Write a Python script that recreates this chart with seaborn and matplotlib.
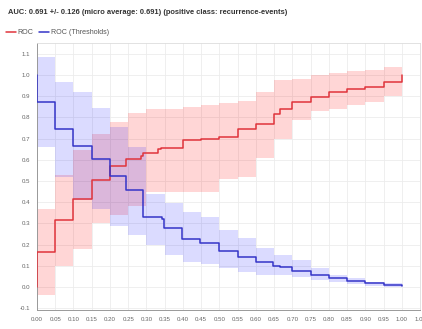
import numpy as np
import pandas as pd
import matplotlib
matplotlib.use("Agg")
import matplotlib.pyplot as plt
import seaborn as sns

# ROC curve (mean over folds), step points
roc_fpr = [0.0, 0.0, 0.05, 0.10, 0.15, 0.20, 0.245, 0.284, 0.291, 0.332, 0.34,
           0.40, 0.45, 0.50, 0.55, 0.60, 0.65, 0.665, 0.70, 0.75, 0.80, 0.85,
           0.90, 0.95, 1.00]
roc_tpr = [0.0, 0.166, 0.316, 0.414, 0.505, 0.571, 0.602, 0.618, 0.63, 0.651, 0.657,
           0.693, 0.70, 0.71, 0.744, 0.768, 0.815, 0.84, 0.875, 0.898, 0.918, 0.932,
           0.946, 0.968, 1.0]

# ROC (Thresholds) curve
thr_fpr = [0.0, 0.0, 0.05, 0.10, 0.15, 0.20, 0.245, 0.29, 0.342, 0.348, 0.398,
           0.448, 0.50, 0.55, 0.60, 0.647, 0.666, 0.70, 0.75, 0.80, 0.85, 0.90,
           0.95, 1.00]
thr_val = [1.0, 0.875, 0.744, 0.665, 0.605, 0.524, 0.457, 0.332, 0.319, 0.28, 0.226,
           0.206, 0.17, 0.14, 0.118, 0.099, 0.093, 0.077, 0.057, 0.041, 0.03, 0.017,
           0.011, 0.005]

# +/- std bands, one value per 0.05 column
band_fpr = [0.00, 0.05, 0.10, 0.15, 0.20, 0.25, 0.30, 0.35, 0.40, 0.45, 0.50,
            0.55, 0.60, 0.65, 0.70, 0.75, 0.80, 0.85, 0.90, 0.95, 1.00]
roc_low = [-0.04, 0.10, 0.18, 0.30, 0.34, 0.38, 0.45, 0.45, 0.45, 0.45, 0.51,
           0.52, 0.61, 0.70, 0.79, 0.83, 0.84, 0.86, 0.875, 0.90, 0.90]
roc_high = [0.37, 0.53, 0.645, 0.72, 0.78, 0.82, 0.84, 0.84, 0.85, 0.86, 0.87,
            0.88, 0.92, 0.975, 0.98, 1.0, 1.01, 1.02, 1.025, 1.04, 1.04]
thr_low = [0.66, 0.52, 0.41, 0.37, 0.29, 0.245, 0.198, 0.15, 0.12, 0.11, 0.09,
           0.072, 0.057, 0.057, 0.049, 0.033, 0.025, 0.014, 0.005, 0.0, 0.0]
thr_high = [1.086, 0.968, 0.921, 0.843, 0.756, 0.66, 0.44, 0.396, 0.355, 0.33, 0.27,
            0.23, 0.184, 0.15, 0.127, 0.088, 0.057, 0.041, 0.025, 0.02, 0.02]

x_ticks = [0.00, 0.05, 0.10, 0.15, 0.20, 0.25, 0.30, 0.35, 0.40, 0.45, 0.50,
           0.55, 0.60, 0.65, 0.70, 0.75, 0.80, 0.85, 0.90, 0.95, 1.00, 1.05]
y_ticks = [-0.1, 0.0, 0.1, 0.2, 0.3, 0.4, 0.5, 0.6, 0.7, 0.8, 0.9, 1.0, 1.1]

title = "AUC: 0.691 +/- 0.126 (micro average: 0.691) (positive class: recurrence-events)"

red = "#e0343c"
blue = "#3434c8"

sns.set_style("white")
plt.rcParams["font.family"] = ["Liberation Sans", "DejaVu Sans"]

fig = plt.figure(figsize=(4.22, 3.29), dpi=100)
ax = fig.add_axes([0.0877, 0.0568, 0.9076, 0.8116])

ax.fill_between(band_fpr, roc_low, roc_high, step="post", color="#ff0000",
                alpha=0.16, linewidth=0, zorder=1)
ax.fill_between(band_fpr, thr_low, thr_high, step="post", color="#0000ff",
                alpha=0.14, linewidth=0, zorder=1)

roc_df = pd.DataFrame({"fpr": roc_fpr, "val": roc_tpr})
thr_df = pd.DataFrame({"fpr": thr_fpr, "val": thr_val})
sns.lineplot(data=roc_df, x="fpr", y="val", estimator=None, sort=False, ax=ax,
             color=red, linewidth=1.1, drawstyle="steps-post", label="ROC", zorder=3)
sns.lineplot(data=thr_df, x="fpr", y="val", estimator=None, sort=False, ax=ax,
             color=blue, linewidth=1.1, drawstyle="steps-post",
             label="ROC (Thresholds)", zorder=3)

ax.set_xlim(0, 1.05)
ax.set_ylim(-0.11, 1.15)
ax.set_xticks(x_ticks)
ax.set_xticklabels([f"{t:.2f}" for t in x_ticks])
ax.set_yticks(y_ticks)
ax.set_yticklabels([f"{t:.1f}" for t in y_ticks])
ax.set_xlabel("")
ax.set_ylabel("")
ax.grid(True, color="#ececec", linewidth=0.6)
ax.set_axisbelow(True)
ax.tick_params(axis="both", labelsize=4.4, colors="#666666", length=2, width=0.5, pad=3)
for side in ["top", "right"]:
    ax.spines[side].set_color("#dddddd")
    ax.spines[side].set_linewidth(0.6)
for side in ["left", "bottom"]:
    ax.spines[side].set_color("#999999")
    ax.spines[side].set_linewidth(0.7)

handles, labels = ax.get_legend_handles_labels()
ax.legend_.remove()
fig.legend(handles, labels, loc="center left", bbox_to_anchor=(0.012, 1 - 32.5 / 329),
           ncol=2, frameon=False, fontsize=5.1, handlelength=1.4, handletextpad=0.2,
           columnspacing=0.8, labelcolor="#555555", borderaxespad=0, borderpad=0.2)

fig.text(8 / 422, 1 - 13 / 329, title, fontsize=5.4, fontweight="bold",
         color="#333333", ha="left", va="center")

fig.savefig("out.png", dpi=100, facecolor="white")
